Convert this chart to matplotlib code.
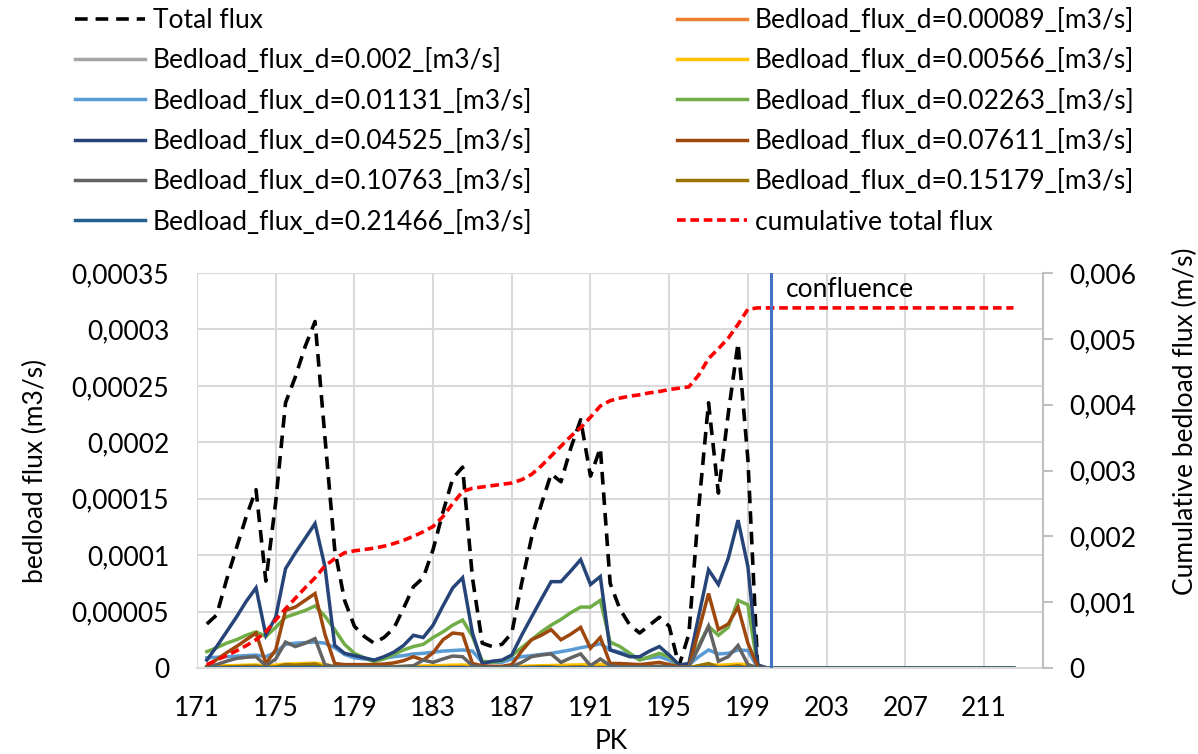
import numpy as np
import matplotlib
matplotlib.use("Agg")
import matplotlib.pyplot as plt
from matplotlib.ticker import MultipleLocator, FuncFormatter

plt.rcParams["font.family"] = ["Lato", "DejaVu Sans"]

# PK positions (every 0.5 km); values below are read for 171.5 .. 199.5
pk = np.arange(171.5, 212.6, 0.5)
n_tail = 26  # points after 199.5 where every flux is zero
pk_ticks = [171, 175, 179, 183, 187, 191, 195, 199, 203, 207, 211]

# fluxes in 1e-5 m3/s
total_flux = [3.9, 4.7, 7.8, 10.6, 13.4, 15.8, 7.7, 14.7, 23.5, 25.8, 28.5, 30.7, 20.5, 10.5,
              6.0, 3.7, 2.8, 2.2, 2.7, 3.5, 5.3, 7.2, 8.0, 10.5, 13.8, 16.8, 17.8, 8.0, 2.2,
              1.9, 2.1, 3.1, 7.5, 11.5, 14.5, 17.2, 16.5, 19.5, 22.0, 17.0, 19.5, 7.5, 5.2,
              3.8, 3.1, 3.8, 4.5, 3.7, 0.2, 3.0, 14.2, 23.5, 15.5, 22.5, 28.8, 18.5, 0.0]
flux_00089 = [0.04, 0.04, 0.05, 0.05, 0.05, 0.06, 0.05, 0.06, 0.07, 0.07, 0.08, 0.08, 0.06, 0.04,
              0.03, 0.03, 0.03, 0.03, 0.03, 0.03, 0.04, 0.04, 0.04, 0.05, 0.05, 0.05, 0.06, 0.05,
              0.02, 0.02, 0.02, 0.03, 0.04, 0.04, 0.05, 0.05, 0.05, 0.06, 0.06, 0.06, 0.07, 0.05,
              0.04, 0.04, 0.03, 0.03, 0.03, 0.03, 0.01, 0.01, 0.04, 0.06, 0.05, 0.05, 0.07, 0.06, 0.0]
flux_002 = [0.08, 0.09, 0.1, 0.11, 0.12, 0.13, 0.1, 0.12, 0.16, 0.17, 0.18, 0.19, 0.14, 0.08,
            0.06, 0.05, 0.05, 0.05, 0.05, 0.06, 0.07, 0.08, 0.09, 0.1, 0.11, 0.12, 0.13, 0.1,
            0.04, 0.04, 0.04, 0.05, 0.07, 0.08, 0.09, 0.1, 0.11, 0.12, 0.13, 0.14, 0.15, 0.1,
            0.09, 0.07, 0.06, 0.06, 0.07, 0.05, 0.02, 0.02, 0.09, 0.14, 0.12, 0.13, 0.17, 0.15, 0.0]
flux_00566 = [0.15, 0.18, 0.2, 0.22, 0.25, 0.27, 0.2, 0.25, 0.35, 0.37, 0.4, 0.42, 0.3, 0.15,
              0.12, 0.1, 0.1, 0.1, 0.1, 0.12, 0.14, 0.16, 0.18, 0.2, 0.22, 0.25, 0.27, 0.2,
              0.08, 0.08, 0.08, 0.1, 0.15, 0.18, 0.2, 0.22, 0.24, 0.26, 0.28, 0.3, 0.32, 0.2,
              0.18, 0.15, 0.12, 0.12, 0.14, 0.1, 0.03, 0.05, 0.2, 0.3, 0.25, 0.28, 0.35, 0.3, 0.0]
flux_01131 = [0.9, 0.95, 1.0, 1.05, 1.1, 1.15, 1.0, 1.4, 2.1, 2.2, 2.25, 2.3, 2.2, 1.8, 1.2,
              0.9, 0.8, 0.7, 0.85, 1.0, 1.1, 1.25, 1.3, 1.4, 1.5, 1.55, 1.6, 1.5, 0.5, 0.5,
              0.5, 0.8, 1.0, 1.1, 1.2, 1.3, 1.45, 1.6, 1.8, 1.95, 2.15, 1.6, 1.4, 1.15, 0.75,
              0.9, 1.0, 0.7, 0.2, 0.3, 1.0, 1.6, 1.25, 1.3, 1.6, 1.55, 0.0]
flux_02263 = [1.45, 1.8, 2.2, 2.5, 2.9, 3.2, 2.8, 3.6, 4.5, 4.8, 5.1, 5.5, 4.6, 3.4, 2.1,
              1.3, 0.9, 0.56, 0.8, 1.2, 1.6, 1.9, 2.1, 2.7, 3.2, 3.8, 4.25, 2.8, 0.6, 0.5,
              0.65, 1.1, 1.8, 2.5, 3.2, 3.8, 4.3, 4.9, 5.4, 5.4, 6.0, 2.3, 1.9, 1.3, 0.7,
              1.0, 1.3, 1.0, 0.2, 0.3, 2.0, 3.7, 2.9, 3.6, 6.0, 5.6, 0.0]
flux_04525 = [0.7, 1.9, 3.2, 4.5, 5.9, 7.1, 2.9, 4.5, 8.8, 10.2, 11.5, 12.8, 9.0, 2.0, 1.3,
              1.1, 0.9, 0.7, 1.0, 1.4, 2.0, 2.9, 2.7, 3.8, 5.5, 7.1, 8.0, 3.1, 0.4, 0.6,
              0.7, 1.15, 2.9, 4.5, 6.1, 7.65, 7.65, 8.6, 9.6, 7.4, 8.1, 1.6, 1.3, 1.0, 1.0,
              1.5, 1.9, 1.15, 0.27, 0.4, 4.6, 8.7, 7.4, 9.7, 13.1, 9.0, 0.27]
flux_07611 = [0.15, 0.75, 1.35, 1.9, 2.5, 3.1, 0.4, 1.6, 5.1, 5.4, 6.0, 6.6, 3.0, 0.4, 0.3,
              0.3, 0.3, 0.3, 0.35, 0.45, 0.65, 1.0, 0.7, 1.35, 2.5, 3.1, 3.0, 0.4, 0.2, 0.15,
              0.15, 0.3, 1.5, 2.5, 2.9, 3.4, 2.5, 3.0, 3.6, 1.75, 2.7, 0.4, 0.4, 0.35, 0.3,
              0.4, 0.5, 0.3, 0.1, 0.1, 3.3, 6.6, 3.4, 3.9, 5.4, 2.2, 0.1]
flux_10763 = [0.05, 0.3, 0.6, 0.85, 0.95, 1.0, 0.2, 0.8, 2.3, 1.9, 2.2, 2.6, 0.3, 0.1, 0.1,
              0.1, 0.1, 0.1, 0.1, 0.1, 0.15, 0.2, 0.7, 0.5, 0.8, 1.06, 1.0, 0.2, 0.1, 0.05,
              0.05, 0.1, 0.5, 1.0, 1.15, 1.25, 0.5, 0.9, 1.25, 0.2, 0.8, 0.2, 0.1, 0.1, 0.1,
              0.1, 0.15, 0.1, 0.05, 0.1, 1.8, 3.7, 0.6, 1.0, 2.0, 0.3, 0.0]
flux_15179 = [0.02, 0.05, 0.1, 0.12, 0.15, 0.17, 0.05, 0.1, 0.3, 0.25, 0.3, 0.35, 0.05, 0.01,
              0.01, 0.01, 0.01, 0.01, 0.01, 0.01, 0.01, 0.02, 0.05, 0.04, 0.06, 0.08, 0.08, 0.02,
              0.01, 0.01, 0.01, 0.01, 0.04, 0.08, 0.1, 0.1, 0.04, 0.08, 0.1, 0.02, 0.06, 0.01,
              0.01, 0.01, 0.01, 0.01, 0.01, 0.01, 0.0, 0.01, 0.2, 0.4, 0.05, 0.1, 0.2, 0.03, 0.0]
flux_21466 = [0.0, 0.01, 0.01, 0.02, 0.02, 0.03, 0.01, 0.02, 0.05, 0.04, 0.05, 0.06, 0.01, 0.0,
              0.0, 0.0, 0.0, 0.0, 0.0, 0.0, 0.0, 0.0, 0.01, 0.01, 0.01, 0.02, 0.02, 0.0,
              0.0, 0.0, 0.0, 0.0, 0.01, 0.01, 0.02, 0.02, 0.01, 0.01, 0.02, 0.0, 0.01, 0.0,
              0.0, 0.0, 0.0, 0.0, 0.0, 0.0, 0.0, 0.0, 0.03, 0.06, 0.01, 0.02, 0.03, 0.0, 0.0]

# cumulative total flux in 1e-3 m/s (right axis)
cumulative = [0.05, 0.12, 0.19, 0.26, 0.34, 0.43, 0.55, 0.73, 0.90, 1.06, 1.22, 1.37, 1.55, 1.66,
              1.75, 1.78, 1.80, 1.82, 1.85, 1.89, 1.94, 2.00, 2.07, 2.15, 2.30, 2.50, 2.68, 2.73,
              2.75, 2.77, 2.79, 2.81, 2.86, 2.94, 3.07, 3.22, 3.37, 3.52, 3.65, 3.81, 3.98, 4.06,
              4.10, 4.13, 4.15, 4.18, 4.20, 4.23, 4.25, 4.27, 4.45, 4.70, 4.85, 5.01, 5.22, 5.45, 5.47]
cumulative_tail = 5.47

confluence_pk = 200.2

labels = ["Total flux",
          "Bedload_flux_d=0.00089_[m3/s]", "Bedload_flux_d=0.002_[m3/s]",
          "Bedload_flux_d=0.00566_[m3/s]", "Bedload_flux_d=0.01131_[m3/s]",
          "Bedload_flux_d=0.02263_[m3/s]", "Bedload_flux_d=0.04525_[m3/s]",
          "Bedload_flux_d=0.07611_[m3/s]", "Bedload_flux_d=0.10763_[m3/s]",
          "Bedload_flux_d=0.15179_[m3/s]", "Bedload_flux_d=0.21466_[m3/s]",
          "cumulative total flux"]
colors = ["#ED7D31", "#A5A5A5", "#FFC000", "#5B9BD5", "#70AD47",
          "#264478", "#9E480E", "#636363", "#997300", "#255E91"]
series = [flux_00089, flux_002, flux_00566, flux_01131, flux_02263,
          flux_04525, flux_07611, flux_10763, flux_15179, flux_21466]


def full(vals, tail=0.0):
    return np.array(list(vals) + [tail] * n_tail)


def comma(v, pos):
    s = f"{v:.6f}".rstrip("0").rstrip(".")
    return s.replace(".", ",")


FS = 19
fig = plt.figure(figsize=(11.98, 7.54), dpi=100)
ax = fig.add_axes([197 / 1198, 1 - 668 / 754, 846 / 1198, 395 / 754])
ax2 = ax.twinx()

handles = []
h, = ax.plot(pk, full(total_flux) * 1e-5, color="black", lw=2.6, ls=(0, (3.5, 2.2)))
handles.append(h)
for vals, c in zip(series, colors):
    h, = ax.plot(pk, full(vals) * 1e-5, color=c, lw=2.5, solid_joinstyle="miter")
    handles.append(h)
h, = ax2.plot(pk, full(cumulative, cumulative_tail) * 1e-3, color="#FF0000", lw=2.6,
              ls=(0, (2.4, 1.3)))
handles.append(h)

ax.set_xlim(171, 214)
ax.set_ylim(0, 0.00035)
ax2.set_ylim(0, 0.006)
ax.set_xticks(pk_ticks)
ax.yaxis.set_major_locator(MultipleLocator(0.00005))
ax2.yaxis.set_major_locator(MultipleLocator(0.001))
ax.yaxis.set_major_formatter(FuncFormatter(comma))
ax2.yaxis.set_major_formatter(FuncFormatter(comma))

ax.grid(True, color="#D9D9D9", lw=1.5)
ax.set_axisbelow(True)
for a in (ax, ax2):
    for side in ("top", "left"):
        a.spines[side].set_visible(False)
    a.spines["bottom"].set_color("#D9D9D9")
    a.spines["bottom"].set_linewidth(1.5)
    a.spines["right"].set_color("#BFBFBF")
    a.spines["right"].set_linewidth(1.5)
ax.spines["right"].set_visible(False)
ax2.spines["bottom"].set_visible(False)

ax.tick_params(axis="x", length=0, pad=20, labelsize=FS)
ax.tick_params(axis="y", length=0, pad=20, labelsize=FS)
ax2.tick_params(axis="y", length=7, width=1.5, color="#BFBFBF", pad=12, labelsize=FS)

ax.set_xlabel("PK", fontsize=FS, va="center")
ax.xaxis.set_label_coords(0.489, -0.187)
ax.set_ylabel("bedload flux (m3/s)", fontsize=FS, va="center")
ax.yaxis.set_label_coords(-0.191, 0.5)
ax2.set_ylabel("Cumulative bedload flux (m/s)", fontsize=FS, va="center")
ax2.yaxis.set_label_coords(1.168, 0.625)

ax2.axvline(confluence_pk, color="#4472C4", lw=2.2)
ax2.text(confluence_pk + 0.75, 0.00575, "confluence", fontsize=FS, va="center")

# Excel-style legend filled row by row in two columns
left = handles[0::2]
right = handles[1::2]
kw = dict(frameon=False, fontsize=FS, handlelength=2.65, handletextpad=0.3,
          labelspacing=0.58, borderpad=0, borderaxespad=0)
fig.legend(left, [labels[i] for i in range(0, 12, 2)], loc="upper left",
           bbox_to_anchor=(75 / 1198, 1 - 8 / 754), **kw)
fig.legend(right, [labels[i] for i in range(1, 12, 2)], loc="upper left",
           bbox_to_anchor=(677 / 1198, 1 - 8 / 754), **kw)

fig.savefig("out.png", dpi=100)
